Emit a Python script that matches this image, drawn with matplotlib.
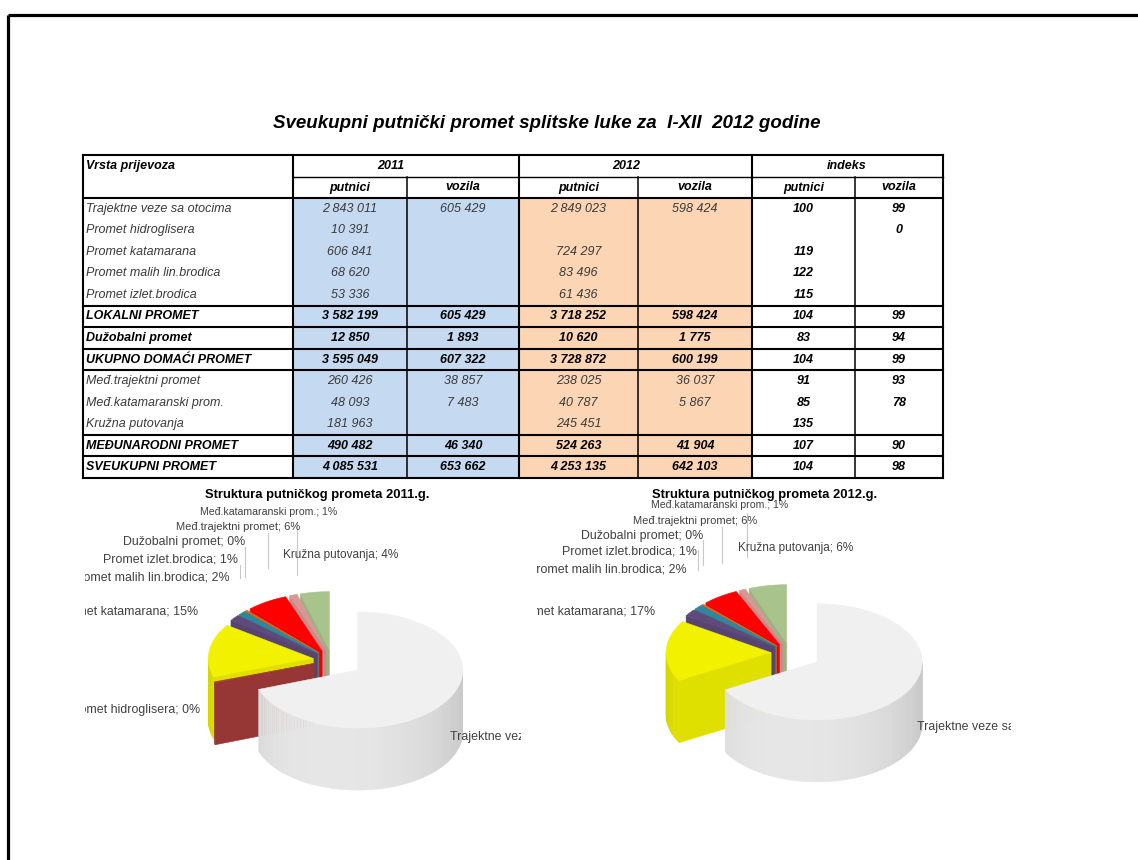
import matplotlib
matplotlib.use("Agg")
import matplotlib.pyplot as plt
import matplotlib.colors as mcolors
from matplotlib.patches import Polygon, Rectangle
import numpy as np

# ---------------- data ----------------
row_labels = ["Trajektne veze sa otocima", "Promet hidroglisera", "Promet katamarana",
              "Promet malih lin.brodica", "Promet izlet.brodica", "LOKALNI PROMET",
              "Dužobalni promet", "UKUPNO DOMAĆI PROMET", "Međ.trajektni promet",
              "Međ.katamaranski prom.", "Kružna putovanja", "MEĐUNARODNI PROMET",
              "SVEUKUPNI PROMET"]
row_bold = [0, 0, 0, 0, 0, 1, 1, 1, 0, 0, 0, 1, 1]
putnici_2011 = [2843011, 10391, 606841, 68620, 53336, 3582199, 12850, 3595049,
                260426, 48093, 181963, 490482, 4085531]
vozila_2011 = [605429, None, None, None, None, 605429, 1893, 607322,
               38857, 7483, None, 46340, 653662]
putnici_2012 = [2849023, None, 724297, 83496, 61436, 3718252, 10620, 3728872,
                238025, 40787, 245451, 524263, 4253135]
vozila_2012 = [598424, None, None, None, None, 598424, 1775, 600199,
               36037, 5867, None, 41904, 642103]
indeks_putnici = [100, None, 119, 122, 115, 104, 83, 104, 91, 85, 135, 107, 104]
indeks_vozila = [99, 0, None, None, None, 99, 94, 99, 93, 78, None, 90, 98]

pie_names = ["Trajektne veze sa otocima", "Promet hidroglisera", "Promet katamarana",
             "Promet malih lin.brodica", "Promet izlet.brodica", "Dužobalni promet",
             "Međ.trajektni promet", "Međ.katamaranski prom.", "Kružna putovanja"]
pie_2011 = [2843011, 10391, 606841, 68620, 53336, 12850, 260426, 48093, 181963]
pie_2012 = [2849023, 0, 724297, 83496, 61436, 10620, 238025, 40787, 245451]
pie_colors = ["#F0F0F0", "#A33C3A", "#F2F200", "#604A7B", "#31859C", "#E46C0A",
              "#FF0000", "#D99694", "#A9C38C"]

title = "Sveukupni putnički promet splitske luke za  I-XII  2012 godine"
pie_titles = ["Struktura putničkog prometa 2011.g.", "Struktura putničkog prometa 2012.g."]

# ---------------- figure ----------------
W, H = 1138, 860
fig = plt.figure(figsize=(W / 100, H / 100), dpi=100)
fig.patch.set_facecolor("white")
ax = fig.add_axes([0, 0, 1, 1])
ax.set_xlim(0, W)
ax.set_ylim(H, 0)
ax.axis("off")
FONT = "Liberation Sans"

# page border
ax.plot([8, W], [15, 15], color="black", lw=2.3, solid_capstyle="butt", clip_on=False)
ax.plot([8, 8], [15, H], color="black", lw=2.3, solid_capstyle="butt", clip_on=False)

ax.text(547, 123, title, fontfamily=FONT, fontsize=13.5, fontweight="bold",
        fontstyle="italic", ha="center", va="center", color="black")

# ---------------- table ----------------
xs = [83, 293, 407, 519, 638, 752, 855, 943]
y_top, y_mid, y_hdr = 155, 177, 198
rh = (478 - y_hdr) / len(row_labels)
y_bot = y_hdr + rh * len(row_labels)

ax.add_patch(Rectangle((xs[1], y_hdr), xs[3] - xs[1], y_bot - y_hdr, facecolor="#C5D9F1",
                       edgecolor="none", zorder=1))
ax.add_patch(Rectangle((xs[3], y_hdr), xs[5] - xs[3], y_bot - y_hdr, facecolor="#FCD5B4",
                       edgecolor="none", zorder=1))

LW = 1.5
def hline(y, x0, x1, lw=LW):
    ax.plot([x0, x1], [y, y], color="black", lw=lw, solid_capstyle="projecting", zorder=3)
def vline(x, y0, y1, lw=LW):
    ax.plot([x, x], [y0, y1], color="black", lw=lw, solid_capstyle="projecting", zorder=3)

hline(y_top, xs[0], xs[-1])
hline(y_mid, xs[1], xs[-1], lw=1.0)
hline(y_hdr, xs[0], xs[-1])
for i in [4, 5, 6, 7, 10, 11, 12]:
    hline(y_hdr + rh * (i + 1), xs[0], xs[-1])
for x in [xs[0], xs[1], xs[3], xs[5], xs[7]]:
    vline(x, y_top, y_bot)
for x in [xs[2], xs[4], xs[6]]:
    vline(x, y_mid, y_bot, lw=1.1)

TS = 9.0
def tt(x, y, s, bold=True, ha="center", color="black"):
    ax.text(x, y, s, fontfamily=FONT, fontsize=TS, fontstyle="italic",
            fontweight="bold" if bold else "normal", ha=ha, va="center",
            color=color, zorder=4)

tt(86, (y_top + y_mid) / 2, "Vrsta prijevoza", ha="left")
tt(391, (y_top + y_mid) / 2, "2011")
tt(626, (y_top + y_mid) / 2, "2012")
tt(847, (y_top + y_mid) / 2, "indeks")
for k in range(6):
    tt((xs[k + 1] + xs[k + 2]) / 2, (y_mid + y_hdr) / 2, "putnici" if k % 2 == 0 else "vozila")

def fmt(v):
    return f"{v:,}".replace(",", " ")

cols = [putnici_2011, vozila_2011, putnici_2012, vozila_2012]
for i, lab in enumerate(row_labels):
    yc = y_hdr + rh * (i + 0.5)
    b = bool(row_bold[i])
    col = "black" if b else "#3A3A3A"
    tt(86, yc, lab, bold=b, ha="left", color=col)
    for k, c in enumerate(cols):
        if c[i] is not None:
            tt((xs[k + 1] + xs[k + 2]) / 2, yc, fmt(c[i]), bold=b, color=col)
    if indeks_putnici[i] is not None:
        tt((xs[5] + xs[6]) / 2, yc, str(indeks_putnici[i]))
    if indeks_vozila[i] is not None:
        tt((xs[6] + xs[7]) / 2, yc, str(indeks_vozila[i]))

# ---------------- 3D pies ----------------
def shade(c, f):
    r = np.clip(np.array(mcolors.to_rgb(c)) * f, 0, 1)
    return tuple(r)

def draw_pie(values, cx, cy, rx, ry, h, explode, z0):
    total = float(sum(values))
    walls, tops = [], []
    a = 0.0
    for v, c, e in zip(values, pie_colors, explode):
        span = v / total * 360.0
        t1, t2 = a, a + span
        a = t2
        if v <= 0:
            continue
        tm = np.radians((t1 + t2) / 2)
        ox = cx + e * rx * np.sin(tm)
        oy = cy - e * ry * np.cos(tm)
        th = np.radians(np.linspace(t1, t2, max(3, int(span * 2) + 2)))
        px = ox + rx * np.sin(th)
        py = oy - ry * np.cos(th)
        tops.append(([(ox, oy)] + list(zip(px, py)), c))
        lo, hi = max(t1, 90.0), min(t2, 270.0)
        if hi > lo:
            n = max(2, int((hi - lo) / 2) + 2)
            tw = np.linspace(lo, hi, n)
            for j in range(n - 1):
                ta, tb = np.radians(tw[j]), np.radians(tw[j + 1])
                xa, ya = ox + rx * np.sin(ta), oy - ry * np.cos(ta)
                xb, yb = ox + rx * np.sin(tb), oy - ry * np.cos(tb)
                tmid = (ta + tb) / 2
                f = 0.84 + 0.12 * max(0.0, -np.cos(tmid - np.radians(15)))
                walls.append((max(ya, yb) + h, [(xa, ya), (xb, yb), (xb, yb + h), (xa, ya + h)],
                              shade(c, f)))
        for tface, vis in ((t1, np.sin(np.radians(t1)) < -1e-6),
                           (t2, np.sin(np.radians(t2)) > 1e-6)):
            if vis:
                ang = np.radians(tface)
                rxp, ryp = ox + rx * np.sin(ang), oy - ry * np.cos(ang)
                walls.append((max(oy, ryp) + h - 0.5,
                              [(ox, oy), (rxp, ryp), (rxp, ryp + h), (ox, oy + h)],
                              shade(c, 0.92)))
    walls.sort(key=lambda w: w[0])
    z = z0
    for d, poly, col in walls:
        ax.add_patch(Polygon(poly, closed=True, facecolor=col, edgecolor=col, lw=0.4, zorder=z))
        z += 0.001
    for poly, col in tops:
        ax.add_patch(Polygon(poly, closed=True, facecolor=col, edgecolor=col, lw=0.4, zorder=z0 + 1))

explode = [0.30] + [0.18] * 8
draw_pie(pie_2011, 332, 660, 105, 58, 62, explode, 5)
draw_pie(pie_2012, 790, 653, 105, 58, 62, explode, 5)

# titles
ax.text(317, 495, pie_titles[0], fontfamily=FONT, fontsize=9.4, fontweight="bold",
        ha="center", va="center", color="black", zorder=8)
ax.text(765, 495, pie_titles[1], fontfamily=FONT, fontsize=9.4, fontweight="bold",
        ha="center", va="center", color="black", zorder=8)

# data labels: (category index, ha, x, y)
lab_pos_2011 = [(0, "left", 450, 737), (1, "right", 200, 710), (2, "right", 198, 612),
                (3, "right", 230, 577), (4, "right", 238, 559), (5, "right", 245, 542),
                (6, "right", 300, 527), (7, "right", 337, 512), (8, "left", 283, 555)]
lab_pos_2012 = [(0, "left", 917, 727), (2, "right", 655, 612),
                (3, "right", 687, 570), (4, "right", 697, 552), (5, "right", 703, 536),
                (6, "right", 757, 521), (7, "right", 788, 505), (8, "left", 738, 548)]
leaders_2011 = [(297, 522, 575), (268, 533, 568), (245, 547, 577), (240, 565, 578)]
leaders_2012 = [(747, 513, 557), (722, 527, 563), (703, 540, 565), (698, 550, 570)]
label_sizes = {6: 8.0, 7: 7.6, 8: 8.5}

def labels(values, positions, leaders, clip):
    total = float(sum(values))
    cp = Rectangle((clip[0], clip[1]), clip[2] - clip[0], clip[3] - clip[1],
                   transform=ax.transData, facecolor="none", edgecolor="none")
    for x, y0, y1 in leaders:
        ax.plot([x, x], [y0, y1], color="#C8C8C8", lw=0.8, zorder=7)
    for idx, ha, x, y in positions:
        pct = int(round(values[idx] / total * 100))
        s = f"{pie_names[idx]}; {pct}%"
        fs = label_sizes.get(idx, 8.9)
        t = ax.text(x, y, s, fontfamily=FONT, fontsize=fs, ha=ha, va="center",
                    color="#404040", zorder=8, clip_on=True)
        t.set_clip_path(cp)

labels(pie_2011, lab_pos_2011, leaders_2011, (85, 470, 521, 830))
labels(pie_2012, lab_pos_2012, leaders_2012, (537, 470, 1011, 830))

fig.savefig("out.png", dpi=100, facecolor="white")
